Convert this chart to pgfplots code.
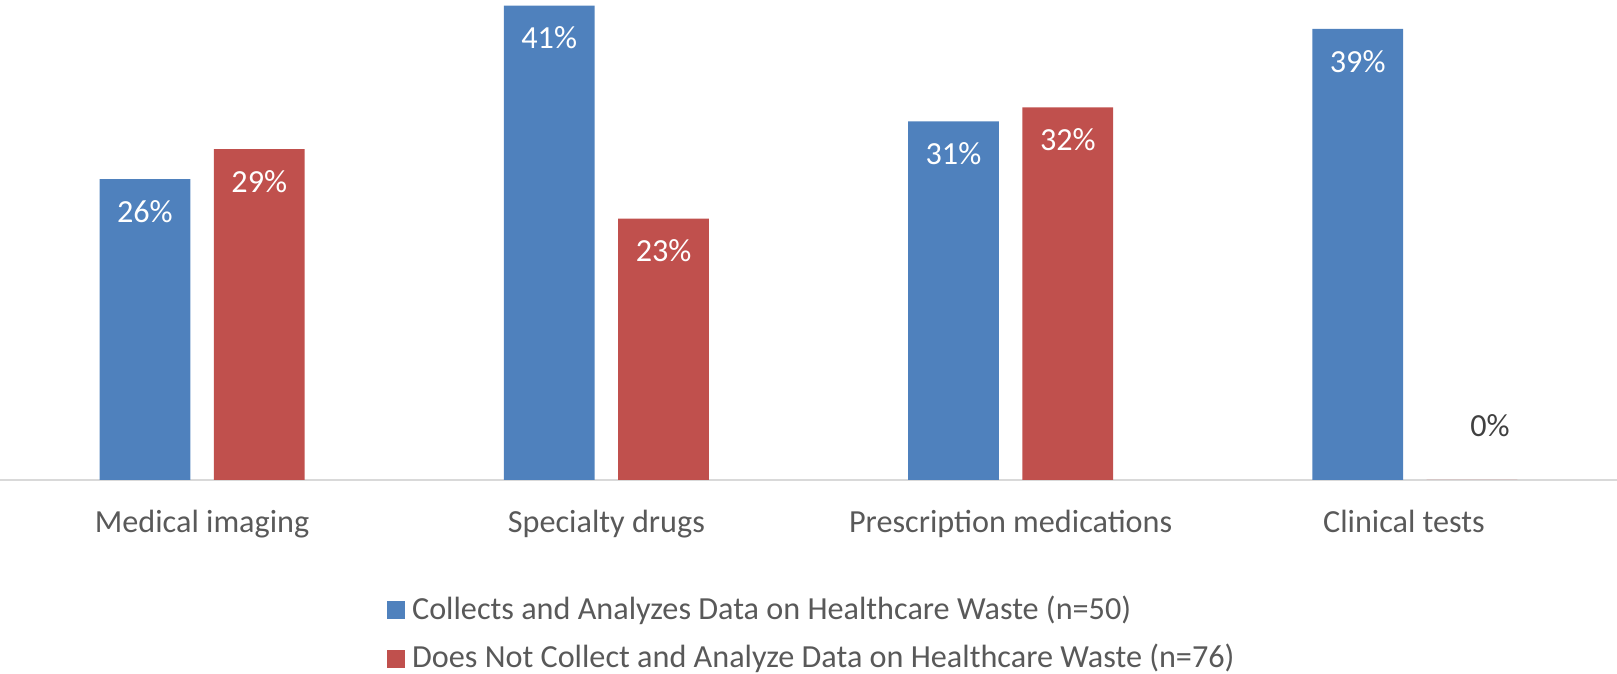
\documentclass[border=0pt]{standalone}
\usepackage{fontspec}
\setmainfont{Carlito}
\usepackage{pgfplots}
\pgfplotsset{compat=1.18}
\definecolor{cblue}{HTML}{4F81BD}
\definecolor{cred}{HTML}{C0504D}
\definecolor{ctext}{HTML}{595959}
\definecolor{czero}{HTML}{404040}
\definecolor{caxis}{HTML}{D9D9D9}
\newcommand{\chartfont}{\fontsize{16.1pt}{19pt}\selectfont}
\begin{document}
\begin{tikzpicture}
\path[use as bounding box] (0,0) rectangle (808.5pt,337pt);
\begin{axis}[
  at={(0,97pt)}, anchor=south west,
  scale only axis, width=808.5pt, height=240pt,
  xmin=-0.5, xmax=3.5, ymin=0, ymax=41.49,
  axis y line=none, axis x line*=bottom,
  x axis line style={draw=caxis, line width=1pt, -},
  xtick={0,1,2,3},
  xticklabels={Medical imaging, Specialty drugs, Prescription medications, Clinical tests\hspace*{10.9pt}},
  major tick length=0pt,
  xtick style={draw=none},
  xticklabel style={anchor=base, yshift=-26.5pt, text=ctext, font=\chartfont},
  /pgf/number format/assume math mode=true,
  clip=false,
  legend cell align=left,
  legend style={at={(0.5,0)}, anchor=north, xshift=1pt, yshift=-58.5pt, draw=none, fill=none,
    inner sep=0pt, outer sep=0pt, row sep=9.3pt, font=\chartfont, text=ctext,
    cells={anchor=base west},
    nodes={inner sep=0pt, text height=11pt, text depth=4pt}},
]
\addplot[ybar, bar width=45.4pt, bar shift=-28.6pt, fill=cblue, draw=none,
  nodes near coords={\pgfmathprintnumber[fixed,precision=0]{\pgfplotspointmeta}\%},
  nodes near coords style={anchor=base, xshift=-28.6pt, yshift=-21.6pt, text=white, font=\chartfont},
  legend image code/.code={\fill[cblue] (0pt,0pt) rectangle (9pt,9pt); \path (12.8pt,0pt);}]
  coordinates {(0,26) (1,41) (2,31) (3,39)};
\addlegendentry{Collects and Analyzes Data on Healthcare Waste (n=50)}
\addplot[ybar, bar width=45.4pt, bar shift=28.6pt, fill=cred, draw=none,
  nodes near coords={\pgfmathprintnumber[fixed,precision=0]{\pgfplotspointmeta}\%},
  nodes near coords style={anchor=base, xshift=28.6pt, yshift=-21.6pt, text=white, font=\chartfont},
  legend image code/.code={\fill[cred] (0pt,0pt) rectangle (9pt,9pt); \path (12.8pt,0pt);}]
  coordinates {(0,28.6) (1,22.6) (2,32.2)};
\addlegendentry{Does Not Collect and Analyze Data on Healthcare Waste (n=76)}
\addplot[ybar, bar width=45.4pt, bar shift=28.6pt, fill=cred, draw=none, forget plot,
  nodes near coords={\pgfmathprintnumber[fixed,precision=0]{\pgfplotspointmeta}\%},
  nodes near coords style={anchor=base, xshift=37.6pt, yshift=21.7pt, text=czero, font=\chartfont}]
  coordinates {(3,0)};
\end{axis}
\end{tikzpicture}
\end{document}
